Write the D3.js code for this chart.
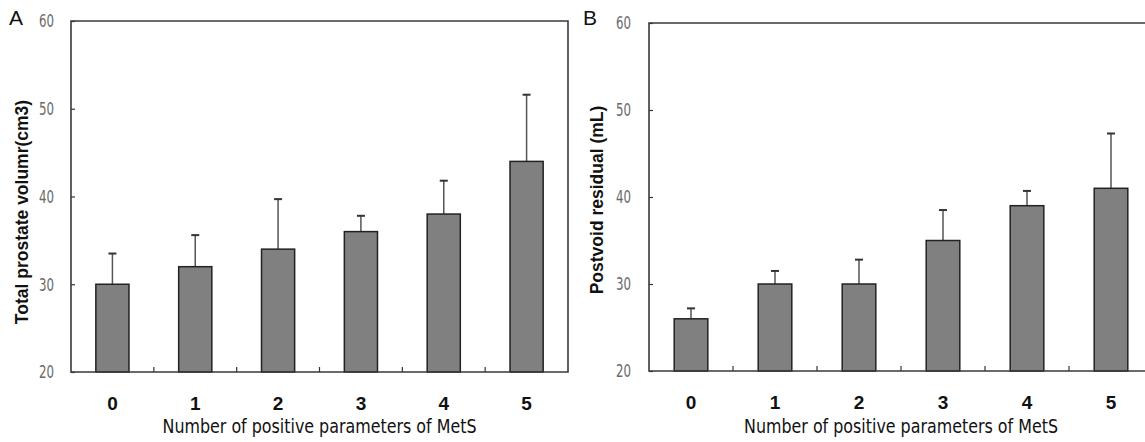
<!DOCTYPE html>
<html>
<head>
<meta charset="utf-8">
<script src="https://cdn.jsdelivr.net/npm/d3@7"></script>
<style>
  body { margin: 0; background: #fff; }
  svg { display: block; }
  .narrow { font-family: "Liberation Sans Narrow", "Arial Narrow", "DejaVu Sans Condensed", sans-serif; }
</style>
</head>
<body>
<svg id="chart" width="1145" height="442"></svg>
<script>
// data
const categories = ["0", "1", "2", "3", "4", "5"];
const volumeMean = [30, 32, 34, 36, 38, 44];
const volumeSD = [3.5, 3.6, 5.7, 1.8, 3.8, 7.6];
const residualMean = [26, 30, 30, 35, 39, 41];
const residualSD = [1.2, 1.5, 2.8, 3.5, 1.7, 6.3];
const yTicks = [20, 30, 40, 50, 60];
const xTitle = "Number of positive parameters of MetS";

const svg = d3.select("#chart");

function panel(opt) {
  const x = d3.scaleBand().domain(categories).range([opt.left, opt.right]).paddingInner(0.6).paddingOuter(0.3);
  const bands = d3.scaleBand().domain(categories).range([opt.left, opt.right]);
  const y = d3.scaleLinear().domain([20, 60]).range([opt.bottom, opt.top]);
  const g = svg.append("g");

  // y axis labels + inward ticks
  const ya = g.append("g")
    .attr("transform", "translate(" + opt.left + ",0)")
    .call(d3.axisLeft(y).tickValues(yTicks).tickSizeInner(-4).tickSizeOuter(0).tickPadding(opt.labelPad));
  ya.select(".domain").remove();
  ya.selectAll("line").attr("stroke", "#333").attr("stroke-width", 1.2);
  ya.selectAll("text").attr("class", "narrow").attr("font-size", 18).attr("fill", "#6a6a6a")
    .attr("textLength", 15).attr("lengthAdjust", "spacingAndGlyphs");

  // x axis labels
  const xa = g.append("g")
    .attr("transform", "translate(0," + opt.bottom + ")")
    .call(d3.axisBottom(bands).tickSize(0).tickPadding(25));
  xa.select(".domain").remove();
  xa.selectAll("text").attr("font-family", "Liberation Sans, Arial, sans-serif")
    .attr("font-weight", "bold").attr("font-size", 19).attr("fill", "#111");

  // x tick marks between categories, pointing up
  g.selectAll(".xt").data(categories.slice(1)).enter().append("line")
    .attr("x1", d => bands(d)).attr("x2", d => bands(d))
    .attr("y1", opt.bottom).attr("y2", opt.bottom - 5)
    .attr("stroke", "#333").attr("stroke-width", 1.2);

  // bars
  const data = categories.map((c, i) => ({ c: c, m: opt.mean[i], s: opt.sd[i] }));
  g.selectAll(".err").data(data).enter().append("line")
    .attr("x1", d => x(d.c) + x.bandwidth() / 2).attr("x2", d => x(d.c) + x.bandwidth() / 2)
    .attr("y1", d => y(d.m)).attr("y2", d => y(d.m + d.s))
    .attr("stroke", "#555").attr("stroke-width", 1.5);
  g.selectAll(".cap").data(data).enter().append("line")
    .attr("x1", d => x(d.c) + x.bandwidth() / 2 - 4).attr("x2", d => x(d.c) + x.bandwidth() / 2 + 4)
    .attr("y1", d => y(d.m + d.s)).attr("y2", d => y(d.m + d.s))
    .attr("stroke", "#333").attr("stroke-width", 2);
  g.selectAll(".bar").data(data).enter().append("rect")
    .attr("x", d => x(d.c)).attr("width", x.bandwidth())
    .attr("y", d => y(d.m)).attr("height", d => y(20) - y(d.m))
    .attr("fill", "#808080").attr("stroke", "#222").attr("stroke-width", 1.5);

  // frame
  const fr = "M" + opt.right + "," + opt.top + "H" + opt.left + "V" + opt.bottom + "H" + opt.right + (opt.closed ? "Z" : "");
  g.append("path").attr("d", fr).attr("fill", "none").attr("stroke", "#3a3a3a").attr("stroke-width", 1.6);

  // titles
  g.append("text").attr("x", opt.left + (opt.right - opt.left) / 2).attr("y", 433)
    .attr("class", "narrow").attr("text-anchor", "middle").attr("font-size", 19).attr("fill", "#111")
    .attr("textLength", 314).attr("lengthAdjust", "spacingAndGlyphs")
    .text(xTitle);
  g.append("text")
    .attr("transform", "translate(" + opt.yTitleX + "," + opt.yTitleY + ") rotate(-90)")
    .attr("text-anchor", "middle").attr("font-family", "Liberation Sans, Arial, sans-serif")
    .attr("font-weight", "bold").attr("font-size", 17.5).attr("fill", "#111")
    .text(opt.yTitle);
  g.append("text").attr("x", opt.letterX).attr("y", 25)
    .attr("font-family", "Liberation Sans, Arial, sans-serif").attr("font-size", 21).attr("fill", "#111")
    .text(opt.letter);
}

panel({ left: 71, right: 568, top: 21, bottom: 372, closed: true, labelPad: 17,
  mean: volumeMean, sd: volumeSD, yTitle: "Total prostate volumr(cm3)",
  yTitleX: 28, yTitleY: 212, letter: "A", letterX: 9 });
panel({ left: 649, right: 1153, top: 23, bottom: 371, closed: false, labelPad: 18,
  mean: residualMean, sd: residualSD, yTitle: "Postvoid residual (mL)",
  yTitleX: 603, yTitleY: 200, letter: "B", letterX: 583 });
</script>
</body>
</html>
